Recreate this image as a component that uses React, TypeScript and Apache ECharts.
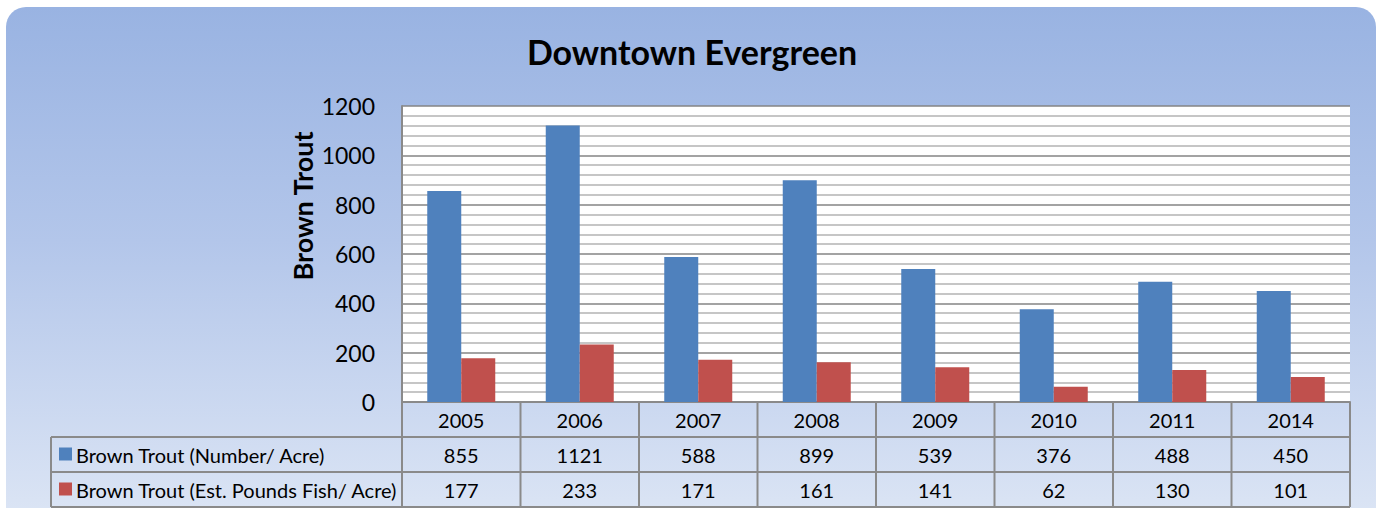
import React, { useEffect, useRef } from "react";
import * as echarts from "echarts";

const chartTitle = "Downtown Evergreen";
const yAxisTitle = "Brown Trout";
const years = ["2005", "2006", "2007", "2008", "2009", "2010", "2011", "2014"];
const seriesNames = ["Brown Trout (Number/ Acre)", "Brown Trout (Est. Pounds Fish/ Acre)"];
const numberPerAcre = [855, 1121, 588, 899, 539, 376, 488, 450];
const poundsPerAcre = [177, 233, 171, 161, 141, 62, 130, 101];
const yMin = 0;
const yMax = 1200;
const yInterval = 200;
const seriesColors = ["#4f81bd", "#c0504d"];

const W = 1377;
const H = 508;
const PLOT_L = 402;
const PLOT_R = 1350;
const PLOT_T = 106;
const PLOT_B = 402;
const ROWS = [402, 437, 472, 507];
const LEGEND_L = 51;
const FONT = "Lato, 'Open Sans', sans-serif";

export default function App() {
  const ref = useRef<HTMLDivElement>(null);

  useEffect(() => {
    if (!ref.current) return;
    const chart = echarts.init(ref.current, undefined, { renderer: "svg" });
    const colW = (PLOT_R - PLOT_L) / years.length;
    const lineStyle = { stroke: "#8a8a8a", lineWidth: 2 };
    const graphic: any[] = [];

    graphic.push({
      type: "text",
      x: 692,
      y: 51,
      style: {
        text: chartTitle,
        font: `bold 34px ${FONT}`,
        fill: "#000",
        textAlign: "center",
        textVerticalAlign: "middle",
      },
    });
    graphic.push({
      type: "text",
      x: 302,
      y: 206,
      rotation: Math.PI / 2,
      style: {
        text: yAxisTitle,
        font: `bold 27px ${FONT}`,
        fill: "#000",
        textAlign: "center",
        textVerticalAlign: "middle",
      },
    });

    // table horizontal lines
    graphic.push({ type: "line", shape: { x1: PLOT_L, y1: ROWS[0], x2: PLOT_R, y2: ROWS[0] }, style: lineStyle });
    for (let r = 1; r < ROWS.length; r++) {
      graphic.push({ type: "line", shape: { x1: LEGEND_L, y1: ROWS[r], x2: PLOT_R, y2: ROWS[r] }, style: lineStyle });
    }
    graphic.push({ type: "line", shape: { x1: LEGEND_L, y1: ROWS[1], x2: LEGEND_L, y2: ROWS[3] }, style: lineStyle });
    for (let i = 0; i <= years.length; i++) {
      const x = PLOT_L + i * colW;
      graphic.push({ type: "line", shape: { x1: x, y1: ROWS[0], x2: x, y2: ROWS[3] }, style: lineStyle });
    }

    const rowsData = [years, numberPerAcre.map(String), poundsPerAcre.map(String)];
    rowsData.forEach((row, r) => {
      const cy = (ROWS[r] + ROWS[r + 1]) / 2;
      row.forEach((txt, i) => {
        graphic.push({
          type: "text",
          x: PLOT_L + (i + 0.5) * colW,
          y: cy,
          style: {
            text: txt,
            font: `20px ${FONT}`,
            fill: "#000",
            textAlign: "center",
            textVerticalAlign: "middle",
          },
        });
      });
    });

    seriesNames.forEach((name, s) => {
      const cy = (ROWS[s + 1] + ROWS[s + 2]) / 2;
      graphic.push({
        type: "rect",
        shape: { x: 59, y: cy - 7, width: 13, height: 13 },
        style: { fill: seriesColors[s] },
      });
      graphic.push({
        type: "text",
        x: 76,
        y: cy,
        style: {
          text: name,
          font: `20px ${FONT}`,
          fill: "#000",
          textAlign: "left",
          textVerticalAlign: "middle",
        },
      });
    });

    chart.setOption({
      animation: false,
      backgroundColor: "transparent",
      grid: {
        left: PLOT_L,
        right: W - PLOT_R,
        top: PLOT_T,
        bottom: H - PLOT_B,
        show: true,
        backgroundColor: "#ffffff",
        borderWidth: 0,
      },
      xAxis: {
        type: "category",
        data: years,
        axisLabel: { show: false },
        axisTick: { show: false },
        axisLine: { show: true, lineStyle: { color: "#8a8a8a", width: 2 } },
      },
      yAxis: {
        type: "value",
        min: yMin,
        max: yMax,
        interval: yInterval,
        axisLine: { show: true, lineStyle: { color: "#8a8a8a", width: 2 } },
        axisTick: { show: false },
        axisLabel: {
          fontSize: 23,
          fontFamily: FONT,
          color: "#000",
          margin: 27,
          formatter: (v: number) => String(v),
        },
        splitLine: { show: true, lineStyle: { color: "#858585", width: 1.5 } },
        minorTick: { show: false, splitNumber: 5 },
        minorSplitLine: { show: true, lineStyle: { color: "#b3b3b3", width: 1.5 } },
      },
      series: [
        {
          name: seriesNames[0],
          type: "bar",
          data: numberPerAcre,
          barWidth: 34,
          barGap: "0%",
          itemStyle: { color: seriesColors[0] },
        },
        {
          name: seriesNames[1],
          type: "bar",
          data: poundsPerAcre,
          barWidth: 34,
          barGap: "0%",
          itemStyle: { color: seriesColors[1] },
        },
      ],
      graphic,
    });
    return () => chart.dispose();
  }, []);

  return (
    <div style={{ position: "fixed", left: 0, top: 0, width: W, height: H, overflow: "hidden", background: "#fff" }}>
      <div
        style={{
          position: "absolute",
          left: 6,
          top: 7,
          width: 1370,
          height: 520,
          borderRadius: 20,
          background: "linear-gradient(to bottom, #99b3e2 0%, #b3c6ea 45%, #dde6f5 100%)",
        }}
      />
      <div ref={ref} style={{ position: "absolute", left: 0, top: 0, width: W, height: H }} />
    </div>
  );
}
